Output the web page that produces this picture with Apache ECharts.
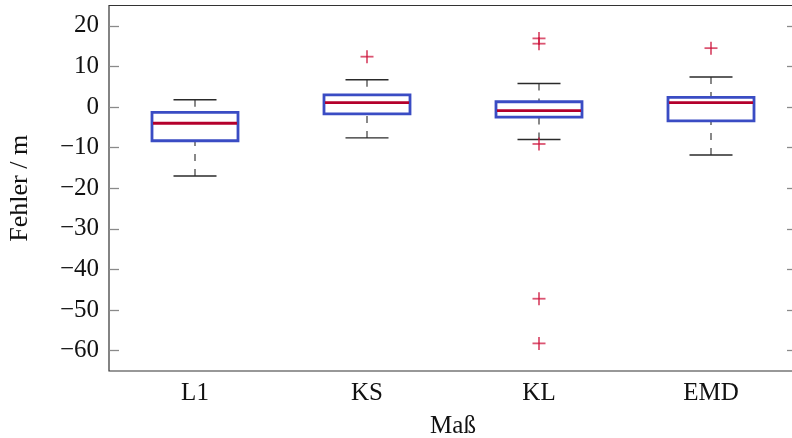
<!DOCTYPE html>
<html>
<head>
<meta charset="utf-8">
<script src="https://cdn.jsdelivr.net/npm/echarts@6/dist/echarts.min.js"></script>
<style>
html,body{margin:0;padding:0;background:#fff;}
#c{width:792px;height:438px;}
</style>
</head>
<body>
<div id="c"></div>
<script>
var categories = ['L1', 'KS', 'KL', 'EMD'];
var whiskerLow = [-17.0, -7.6, -8.0, -11.8];
var quartile1 = [-8.3, -1.7, -2.5, -3.4];
var medians = [-4.0, 1.1, -0.9, 1.1];
var quartile3 = [-1.3, 3.0, 1.3, 2.4];
var whiskerHigh = [1.8, 6.7, 5.8, 7.4];
var outlierCats = ['KS', 'KL', 'KL', 'KL', 'KL', 'KL', 'EMD'];
var outlierVals = [12.4, 16.9, 15.6, -9.1, -47.2, -58.2, 14.5];
var yTicks = [-60, -50, -40, -30, -20, -10, 0, 10, 20];

var FONT = 'Liberation Serif';
var boxData = categories.map(function (c, i) {
  return [i, whiskerLow[i], quartile1[i], medians[i], quartile3[i], whiskerHigh[i]];
});
var outData = outlierCats.map(function (c, i) {
  return [categories.indexOf(c), outlierVals[i]];
});

function renderBox(params, api) {
  var i = api.value(0);
  var lo = api.coord([i, api.value(1)]);
  var q1 = api.coord([i, api.value(2)]);
  var md = api.coord([i, api.value(3)]);
  var q3 = api.coord([i, api.value(4)]);
  var hi = api.coord([i, api.value(5)]);
  var band = api.size([1, 0])[0];
  var bw = band * 0.5, cw = band * 0.25;
  var x = md[0];
  var dash = {stroke: '#4a4a4a', lineWidth: 1.3, lineDash: [7, 8]};
  var cap = {stroke: '#2a2a2a', lineWidth: 1.4};
  return {
    type: 'group',
    children: [
      {type: 'line', shape: {x1: x, y1: hi[1], x2: x, y2: q3[1]}, style: dash},
      {type: 'line', shape: {x1: x, y1: lo[1], x2: x, y2: q1[1]}, style: dash},
      {type: 'line', shape: {x1: x - cw / 2, y1: hi[1], x2: x + cw / 2, y2: hi[1]}, style: cap},
      {type: 'line', shape: {x1: x - cw / 2, y1: lo[1], x2: x + cw / 2, y2: lo[1]}, style: cap},
      {type: 'rect', shape: {x: x - bw / 2, y: q3[1], width: bw, height: q1[1] - q3[1]},
        style: {fill: '#fff', stroke: '#3a4cc4', lineWidth: 2.8}},
      {type: 'line', shape: {x1: x - bw / 2 + 1, y1: md[1], x2: x + bw / 2 - 1, y2: md[1]},
        style: {stroke: '#b4002c', lineWidth: 2.8}}
    ]
  };
}

function renderOutlier(params, api) {
  var p = api.coord([api.value(0), api.value(1)]);
  var s = 6.5;
  var st = {stroke: 'rgba(205,20,60,0.72)', lineWidth: 1.8};
  return {
    type: 'group',
    children: [
      {type: 'line', shape: {x1: p[0] - s, y1: p[1], x2: p[0] + s, y2: p[1]}, style: st},
      {type: 'line', shape: {x1: p[0], y1: p[1] - s, x2: p[0], y2: p[1] + s}, style: st}
    ]
  };
}

var chart = echarts.init(document.getElementById('c'), null, {renderer: 'canvas'});
chart.setOption({
  animation: false,
  grid: {left: 109, right: -5, top: 5.5, bottom: 67, show: true, borderColor: '#333', borderWidth: 1.2,
    backgroundColor: 'transparent', containLabel: false, outerBoundsMode: 'none'},
  xAxis: {
    type: 'category', data: categories, boundaryGap: true,
    name: 'Maß', nameLocation: 'middle', nameGap: 43,
    nameTextStyle: {fontFamily: FONT, fontSize: 25, color: '#111'},
    axisLine: {show: false}, axisTick: {show: false}, splitLine: {show: false},
    axisLabel: {fontFamily: FONT, fontSize: 25, color: '#111', margin: 10}
  },
  yAxis: [{
    type: 'value', min: -65, max: 25, position: 'left',
    name: 'Fehler / m', nameLocation: 'middle', nameGap: 76,
    nameTextStyle: {fontFamily: FONT, fontSize: 26, color: '#111'},
    axisLine: {show: false}, splitLine: {show: false},
    axisTick: {show: true, inside: true, length: 10, customValues: yTicks, lineStyle: {color: '#8a8a8a', width: 1.3}},
    axisLabel: {fontFamily: FONT, fontSize: 25, color: '#111', margin: 10, customValues: yTicks,
      formatter: function (v) { return v < 0 ? '\u2212' + Math.abs(v) : String(v); }}
  }, {
    type: 'value', min: -65, max: 25, position: 'right',
    axisLine: {show: false}, splitLine: {show: false},
    axisTick: {show: true, inside: true, length: 10, customValues: yTicks, lineStyle: {color: '#8a8a8a', width: 1.3}},
    axisLabel: {show: false}
  }],
  series: [{
    type: 'custom', renderItem: renderBox, data: boxData,
    encode: {x: 0, y: [1, 2, 3, 4, 5]}, z: 2
  }, {
    type: 'custom', renderItem: renderOutlier, data: outData,
    encode: {x: 0, y: 1}, z: 3
  }]
});
</script>
</body>
</html>
